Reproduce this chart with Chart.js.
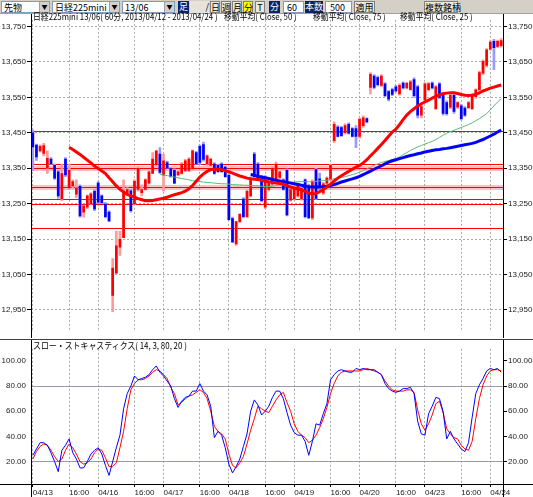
<!DOCTYPE html>
<html>
<head>
<meta charset="utf-8">
<script src="https://cdn.jsdelivr.net/npm/chart.js@4.4.1/dist/chart.umd.min.js"></script>
<style>
body { margin:0; width:533px; height:497px; background:#fff; position:relative; overflow:hidden; font-family:"Noto Sans CJK JP", sans-serif; }
#bar { position:absolute; left:0; top:0; width:533px; height:14px; background:#d4d0c8; border-bottom:1px solid #a0a0a0; box-sizing:border-box; }
.tb { position:absolute; top:1px; height:12px; font-size:9px; line-height:12px; box-sizing:border-box; white-space:nowrap; }
.combo { background:#fff; border:1px solid #7f9db9; padding-left:2px; }
.combo i { position:absolute; right:0; top:0; width:9px; height:10px; background:#d4d0c8; border-left:1px solid #a0a0a0; font-style:normal; font-size:6px; line-height:10px; text-align:center; }
.btn { background:#ece9d8; border:1px solid #808080; text-align:center; }
.navy { background:#0a246a; color:#fff; text-align:center; }
.yel { background:#ffff00; border:1px solid #808080; text-align:center; }
.txt { position:absolute; font-size:9px; line-height:12px; color:#000; white-space:pre; transform-origin:0 50%; }
canvas { position:absolute; left:0; }
</style>
</head>
<body>
<div id="bar">
  <div class="tb combo" style="left:1px;width:49px">先物<i>▼</i></div>
  <div class="tb combo" style="left:52px;width:68px">日経225mini<i>▼</i></div>
  <div class="tb combo" style="left:122px;width:53px">13/06<i>▼</i></div>
  <div class="tb navy" style="left:178px;width:11px">足</div>
  <div class="tb" style="left:190px;width:19px;background:#e6e3dc;text-align:right">/</div>
  <div class="tb btn" style="left:210px;width:10px">日</div>
  <div class="tb btn" style="left:221px;width:10px">週</div>
  <div class="tb btn" style="left:232px;width:10px">月</div>
  <div class="tb yel" style="left:243px;width:10px">分</div>
  <div class="tb btn" style="left:255px;width:10px">T</div>
  <div class="tb navy" style="left:269px;width:11px">分</div>
  <div class="tb combo" style="left:283px;width:21px;text-align:right;padding-right:6px">60</div>
  <div class="tb navy" style="left:305px;width:18px">本数</div>
  <div class="tb combo" style="left:325px;width:27px;text-align:right;padding-right:6px">500</div>
  <div class="tb btn" style="left:354px;width:21px">適用</div>
  <div class="tb btn" style="left:424px;width:34px">複数銘柄</div>
</div>
<canvas id="price" width="533" height="324" style="top:14px"></canvas>
<canvas id="stoch" width="533" height="158" style="top:339px"></canvas>
<div class="txt" style="left:33px;top:11px;transform:scaleX(0.87)">日経225mini 13/06( 60分, 2013/04/12 - 2013/04/24 )</div>
<div class="txt" style="left:224px;top:11px;transform:scaleX(0.87)">移動平均( Close, 50 )</div>
<div class="txt" style="left:313px;top:11px;transform:scaleX(0.87)">移動平均( Close, 75 )</div>
<div class="txt" style="left:400px;top:11px;transform:scaleX(0.87)">移動平均( Close, 25 )</div>
<div class="txt" style="left:33px;top:340px;transform:scaleX(0.88)">スロー・ストキャスティクス( 14, 3, 80, 20 )</div>
<script>
// session layout: date label at 00:00, 16:00 label inside
var dayLabels = ['04/13', '04/16', '04/17', '04/18', '04/19', '04/20', '04/23', '04/24'];
var sessionHours = ['00','01','02','09','10','11','12','13','14','15','16','17','18','19','20','21','22','23'];
var lastDayHours = ['00','01','02','09'];

var opens = [13450,13415,13399,13392,13350,13376,13358,13340,13263,13376,
  13294,13300,13277,13299,13226,13240,13250,13285,13308,13272,
  13249,13226,12991,13054,13127,13154,13281,13286,13250,13290,
  13281,13290,13308,13335,13360,13390,13330,13366,13349,13344,
  13331,13335,13344,13344,13349,13394,13412,13417,13362,13358,
  13362,13358,13362,13353,13330,13208,13136,13199,13263,13213,
  13272,13390,13362,13326,13240,13290,13305,13310,13324,13317,
  13344,13260,13263,13272,13263,13317,13300,13210,13346,13320,
  13280,13308,13318,13428,13466,13465,13450,13474,13462,13462,
  13440,13470,13490,13578,13610,13606,13584,13588,13566,13572,
  13580,13560,13590,13577,13572,13600,13580,13500,13542,13572,
  13590,13518,13588,13560,13535,13522,13556,13522,13526,13520,
  13521,13518,13552,13572,13618,13640,13686,13708,13694,13696];
var highs = [13458,13418,13416,13420,13399,13380,13362,13344,13362,13380,
  13362,13317,13317,13303,13246,13275,13281,13290,13312,13275,
  13253,13230,13095,13172,13172,13317,13295,13290,13317,13355,
  13303,13320,13342,13394,13399,13408,13390,13370,13352,13348,
  13342,13366,13375,13380,13402,13398,13415,13424,13388,13378,
  13366,13362,13366,13357,13334,13212,13199,13222,13267,13290,
  13326,13395,13366,13330,13330,13310,13353,13367,13342,13320,
  13348,13292,13296,13308,13296,13320,13305,13317,13350,13336,
  13310,13326,13362,13481,13470,13468,13475,13478,13465,13470,
  13492,13498,13492,13620,13614,13610,13614,13592,13570,13576,
  13584,13588,13594,13592,13598,13605,13584,13528,13592,13592,
  13594,13584,13592,13565,13540,13560,13560,13538,13530,13524,
  13538,13560,13574,13624,13656,13688,13710,13714,13712,13716];
var lows = [13344,13372,13395,13385,13335,13360,13318,13265,13258,13326,
  13290,13294,13267,13212,13212,13236,13248,13230,13250,13250,
  13210,13199,12945,13054,13104,13154,13278,13226,13248,13285,
  13272,13288,13305,13335,13355,13335,13285,13348,13324,13306,
  13328,13333,13340,13340,13345,13360,13360,13370,13358,13355,
  13333,13338,13338,13324,13203,13140,13132,13197,13210,13210,
  13268,13324,13315,13255,13236,13286,13300,13305,13320,13288,
  13215,13257,13260,13268,13260,13210,13208,13205,13262,13290,
  13275,13300,13315,13422,13438,13440,13446,13446,13438,13408,
  13435,13465,13478,13560,13574,13582,13580,13552,13540,13555,
  13565,13556,13574,13574,13570,13550,13492,13492,13538,13568,
  13574,13515,13546,13500,13500,13518,13505,13519,13486,13496,
  13518,13515,13548,13568,13614,13636,13683,13628,13690,13692];
var closes = [13410,13382,13412,13414,13378,13362,13322,13272,13335,13331,
  13344,13312,13294,13215,13244,13272,13278,13235,13254,13253,
  13213,13201,13068,13131,13149,13281,13290,13230,13313,13350,
  13290,13317,13340,13376,13399,13338,13371,13350,13326,13308,
  13340,13362,13371,13376,13399,13362,13366,13375,13385,13376,
  13335,13340,13340,13326,13205,13142,13199,13220,13213,13285,
  13320,13326,13317,13258,13326,13308,13350,13362,13340,13290,
  13218,13290,13294,13306,13294,13213,13210,13312,13265,13295,
  13306,13322,13358,13474,13440,13442,13470,13449,13440,13440,
  13488,13492,13481,13615,13578,13586,13610,13555,13545,13558,
  13568,13584,13577,13590,13594,13555,13500,13524,13588,13589,
  13577,13580,13550,13505,13504,13556,13510,13535,13490,13500,
  13535,13556,13571,13620,13652,13684,13706,13690,13708,13710];

function nulls(n) { var a = []; for (var i = 0; i < n; i++) a.push(null); return a; }
var ma25 = nulls(10).concat([13409,13403,13396,13389,13381,13373,13365,13356,13349,13342,
  13335,13323,13312,13300,13290,13283,13276,13272,13268,13264,
  13261,13258,13258,13259,13261,13263,13265,13268,13272,13275,
  13278,13281,13285,13292,13301,13313,13325,13334,13341,13346,
  13348,13347,13346,13343,13340,13336,13332,13328,13325,13322,
  13320,13319,13318,13316,13313,13312,13310,13308,13307,13304,
  13301,13297,13294,13291,13288,13285,13280,13277,13279,13284,
  13290,13297,13305,13314,13322,13329,13335,13341,13347,13353,
  13358,13365,13374,13385,13395,13406,13417,13428,13440,13452,
  13460,13473,13487,13500,13510,13518,13526,13532,13537,13542,
  13548,13553,13557,13560,13562,13563,13563,13561,13558,13556,
  13555,13556,13558,13563,13568,13572,13576,13579,13582,13585]);
var ma50 = nulls(35).concat([13333,13331,13329,13327,13325,
  13323,13321,13319,13317,13315,13313,13312,13311,13310,13309,
  13308,13307,13306,13306,13305,13304,13303,13303,13302,13302,
  13301,13301,13300,13299,13298,13298,13299,13301,13303,13305,
  13307,13309,13311,13312,13312,13312,13312,13312,13313,13314,
  13315,13316,13318,13320,13322,13324,13326,13329,13332,13335,
  13339,13343,13348,13353,13358,13362,13366,13369,13372,13374,
  13377,13382,13388,13394,13400,13405,13410,13414,13418,13422,
  13426,13431,13437,13443,13449,13453,13457,13461,13465,13469,
  13473,13478,13484,13490,13497,13504,13515,13526,13537,13546]);
var ma75 = nulls(60).concat([13332,13330,13327,13325,13323,13321,13318,13316,13314,13312,
  13310,13308,13306,13304,13302,13300,13298,13297,13297,13297,
  13298,13299,13301,13304,13307,13311,13314,13317,13320,13323,
  13327,13332,13337,13342,13347,13352,13357,13362,13367,13371,
  13374,13377,13380,13383,13386,13388,13391,13393,13396,13398,
  13400,13402,13403,13405,13406,13408,13410,13412,13414,13416,
  13418,13420,13423,13427,13431,13436,13441,13446,13452,13458]);

var stochK = [25,30,35,35,33,27,20,12,29,33,
  38,27,22,15,15,20,26,29,31,26,
  17,9,20,31,41,62,74,80,88,85,
  86,87,89,93,96,91,88,84,80,70,
  63,68,71,72,76,76,82,76,73,64,
  39,44,41,31,18,11,16,22,32,42,
  60,69,65,57,60,64,71,76,76,70,
  59,49,43,41,41,36,25,36,50,49,
  58,66,85,89,92,93,92,91,91,94,
  93,94,93,93,93,91,89,82,78,76,
  75,76,78,78,79,74,52,42,41,58,
  64,71,70,60,38,44,38,34,30,28,
  35,55,74,81,86,92,94,93,94,91];
var stochD = [22,28,32,34,33,29,24,20,22,29,
  34,31,26,20,18,19,22,27,30,29,
  23,16,16,19,31,44,62,77,82,85,
  85,86,88,91,93,92,89,86,79,74,
  65,67,70,72,73,75,77,75,70,60,
  48,44,42,38,26,17,15,19,24,34,
  45,54,64,62,60,59,64,69,73,75,
  67,60,50,44,41,39,35,37,41,47,
  54,63,74,82,88,91,92,92,92,92,
  92,93,94,93,92,91,89,84,80,77,
  76,76,76,77,77,75,61,50,45,50,
  57,66,68,59,46,42,39,38,33,30,
  29,36,54,70,81,88,92,93,93,92];

var priceTicks = [12950, 13050, 13150, 13250, 13350, 13450, 13550, 13650, 13750];
var stochTicks = [20, 40, 60, 80, 100];
var thinLevels = [13455, 13363, 13350, 13296, 13263, 13249, 13181];
var bandLevels = [13350, 13296];

// category labels
var categories = [];
dayLabels.forEach(function (d, k) {
  var hours = k < dayLabels.length - 1 ? sessionHours : lastDayHours;
  hours.forEach(function (h) { categories.push(d + ' ' + h + ':00'); });
});
function tickText(i) {
  var c = categories[i];
  if (!c) return '';
  var hh = c.slice(6);
  if (hh === '00:00') return c.slice(0, 5);
  if (hh === '16:00') return '16:00';
  return '';
}

var gridGray = '#a8a8a8';
var labelFont = { family: 'Liberation Sans', size: 8 };

function vGrid(c) { return tickText(c.index) ? gridGray : 'rgba(0,0,0,0)'; }

var axesPlugin = {
  id: 'axes',
  afterDraw: function (chart) {
    var ctx = chart.ctx, a = chart.chartArea;
    ctx.save();
    ctx.fillStyle = '#000';
    ctx.fillRect(Math.round(a.left), 0, 1, chart.height);
    ctx.fillRect(Math.round(a.right), 0, 1, chart.height);
    if (chart.canvas.id === 'stoch') {
      ctx.fillStyle = '#404040';
      ctx.fillRect(0, 0, chart.width, 1);
      ctx.fillStyle = '#000';
      ctx.fillRect(0, Math.round(a.bottom), chart.width, 1);
    }
    ctx.restore();
  }
};

var levelPlugin = {
  id: 'levels',
  beforeDatasetsDraw: function (chart) {
    var ctx = chart.ctx, a = chart.chartArea, y = chart.scales.y;
    ctx.save();
    ctx.fillStyle = 'rgba(255,120,120,0.45)';
    bandLevels.forEach(function (v) {
      var py = Math.round(y.getPixelForValue(v));
      ctx.fillRect(a.left, py - 2, a.right - a.left, 5);
    });
    ctx.fillStyle = '#ff0000';
    thinLevels.forEach(function (v) {
      var py = Math.round(y.getPixelForValue(v));
      ctx.fillRect(a.left, py, a.right - a.left, 1);
    });
    ctx.restore();
  }
};

function upColor(c, up, down) { return closes[c.dataIndex] >= opens[c.dataIndex] ? up : down; }

new Chart(document.getElementById('price'), {
  type: 'bar',
  data: {
    labels: categories,
    datasets: [
      { type: 'line', data: ma25, borderColor: '#ff0000', borderWidth: 3, pointRadius: 0, tension: 0 },
      { type: 'line', data: ma75, borderColor: '#0000ff', borderWidth: 3, pointRadius: 0, tension: 0 },
      { type: 'line', data: ma50, borderColor: '#5cb87a', borderWidth: 1, pointRadius: 0, tension: 0 },
      { data: opens.map(function (o, i) { return [o, closes[i]]; }), barThickness: 2, minBarLength: 1, grouped: false,
        backgroundColor: function (c) { return upColor(c, '#ff0000', '#0000ff'); } },
      { data: lows.map(function (l, i) { return [l, highs[i]]; }), barThickness: 2, grouped: false,
        backgroundColor: function (c) { return upColor(c, '#ff9a9a', '#9a9aff'); } }
    ]
  },
  options: {
    responsive: false, animation: false, events: [],
    layout: { padding: 0 },
    plugins: { legend: { display: false }, tooltip: { enabled: false } },
    scales: {
      x: {
        ticks: { display: false },
        grid: { offset: false, color: vGrid, drawTicks: false, borderDash: [2, 2] },
        border: { display: false, dash: [2, 2] },
        afterFit: function (s) { s.height = 0; }
      },
      y: {
        position: 'left', min: 12887, max: 13769,
        afterBuildTicks: function (s) { s.ticks = priceTicks.map(function (v) { return { value: v }; }); },
        ticks: { font: labelFont, color: '#222', padding: 1,
          callback: function (v) { return v.toLocaleString('en-US'); } },
        grid: { color: gridGray, borderDash: [2, 2], tickLength: 4, tickColor: '#000', tickBorderDash: [] },
        border: { display: false, dash: [2, 2] },
        afterFit: function (s) { s.width = 31; }
      },
      y2: {
        position: 'right', min: 12887, max: 13769,
        afterBuildTicks: function (s) { s.ticks = priceTicks.map(function (v) { return { value: v }; }); },
        ticks: { font: labelFont, color: '#222', padding: 1,
          callback: function (v) { return v.toLocaleString('en-US'); } },
        grid: { drawOnChartArea: false, tickLength: 4, tickColor: '#000' },
        border: { display: false },
        afterFit: function (s) { s.width = 30; }
      }
    }
  },
  plugins: [levelPlugin, axesPlugin]
});

new Chart(document.getElementById('stoch'), {
  type: 'line',
  data: {
    labels: categories,
    datasets: [
      { data: stochK, borderColor: '#0000ff', borderWidth: 1, pointRadius: 0, tension: 0 },
      { data: stochD, borderColor: '#ff0000', borderWidth: 1, pointRadius: 0, tension: 0 }
    ]
  },
  options: {
    responsive: false, animation: false, events: [],
    layout: { padding: 0 },
    plugins: { legend: { display: false }, tooltip: { enabled: false } },
    scales: {
      x: {
        offset: true,
        ticks: { autoSkip: false, maxRotation: 0, minRotation: 0, align: 'start', padding: 1, font: labelFont, color: '#222',
          callback: function (v, i) { return tickText(i); } },
        grid: { offset: false, color: vGrid, borderDash: [2, 2], tickLength: 3, tickBorderDash: [],
          tickColor: function (c) { return tickText(c.index) ? '#000' : 'rgba(0,0,0,0)'; } },
        border: { display: false, dash: [2, 2] },
        afterFit: function (s) { s.height = 13; }
      },
      y: {
        position: 'left', min: 2.2, max: 109.6,
        afterBuildTicks: function (s) { s.ticks = stochTicks.map(function (v) { return { value: v }; }); },
        ticks: { font: labelFont, color: '#222', padding: 5, callback: function (v) { return v.toFixed(2); } },
        grid: { drawTicks: false,
          color: function (c) { return (c.tick && (c.tick.value === 80 || c.tick.value === 20)) ? '#9a9aae' : 'rgba(0,0,0,0)'; } },
        border: { display: false },
        afterFit: function (s) { s.width = 31; }
      },
      y2: {
        position: 'right', min: 2.2, max: 109.6,
        afterBuildTicks: function (s) { s.ticks = stochTicks.map(function (v) { return { value: v }; }); },
        ticks: { font: labelFont, color: '#222', padding: 1, callback: function (v) { return v.toFixed(2); } },
        grid: { drawOnChartArea: false, tickLength: 4, tickColor: '#000' },
        border: { display: false },
        afterFit: function (s) { s.width = 30; }
      }
    }
  },
  plugins: [axesPlugin]
});
</script>
</body>
</html>
